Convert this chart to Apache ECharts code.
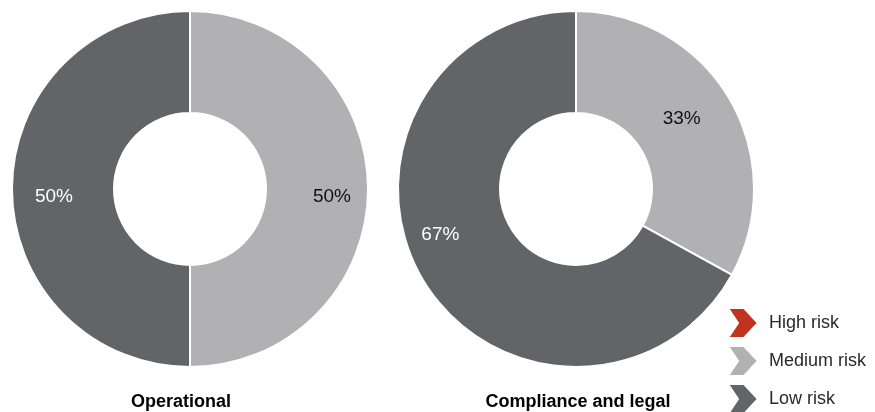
<!DOCTYPE html>
<html>
<head>
<meta charset="utf-8">
<script src="https://cdn.jsdelivr.net/npm/echarts@6/dist/echarts.min.js"></script>
<style>html,body{margin:0;padding:0;background:#fff;}#c{width:875px;height:412px;}</style>
</head>
<body>
<div id="c"></div>
<script>
var categories = ['High risk', 'Medium risk', 'Low risk'];
var chartTitles = ['Operational', 'Compliance and legal'];
var operationalValues = [0, 50, 50];
var complianceValues = [0, 33, 67];

var colors = ['#c1321f', '#b1b1b3', '#636467'];
var labelColors = ['#000', '#111', '#fff'];
var centers = [[190, 189], [576, 189]];
// small manual label nudges (px), per series / data item, to match reference label placement
var labelNudges = [[[0, 0], [3, 8], [3, 8]], [[0, 0], [-14, 1], [-16, -25]]];
var chevron = 'path://M0,0 L16,0 L30,15 L16,30 L0,30 L10,15 Z';
var FONT = 'Liberation Sans, Arial, sans-serif';

function makeData(vals) {
  return categories.map(function (c, i) {
    return {
      name: c,
      value: vals[i],
      itemStyle: { color: colors[i] },
      label: { show: vals[i] > 0, color: labelColors[i] }
    };
  });
}

function makeSeries(vals, idx) {
  return {
    type: 'pie',
    center: centers[idx],
    radius: [76, 178],
    startAngle: 90,
    clockwise: true,
    avoidLabelOverlap: false,
    silent: true,
    emphasis: { disabled: true },
    itemStyle: { borderColor: '#fff', borderWidth: 2 },
    label: {
      position: 'inside',
      formatter: '{c}%',
      fontFamily: FONT,
      fontSize: 19
    },
    labelLine: { show: false },
    labelLayout: function (p) {
      var c = centers[idx];
      var lr = p.labelRect;
      var cx = lr.x + lr.width / 2, cy = lr.y + lr.height / 2;
      var vx = cx - c[0], vy = cy - c[1];
      var d = Math.sqrt(vx * vx + vy * vy) || 1;
      var R = 139;
      var n = labelNudges[idx][p.dataIndex];
      return { dx: vx / d * R - vx + n[0], dy: vy / d * R - vy + n[1] };
    },
    data: makeData(vals)
  };
}

var chart = echarts.init(document.getElementById('c'));
chart.setOption({
  animation: false,
  title: chartTitles.map(function (t, i) {
    return {
      text: t,
      left: centers[i][0] + (i === 1 ? 2 : -9),
      top: 393,
      padding: 0,
      textAlign: 'center',
      textStyle: { fontFamily: FONT, fontSize: 18, lineHeight: 18, fontWeight: 'bold', color: '#000' }
    };
  }),
  legend: {
    orient: 'vertical',
    left: 727,
    top: 307,
    height: 130,
    padding: 0,
    itemWidth: 30,
    itemHeight: 30,
    itemGap: 6,
    selectedMode: false,
    icon: chevron,
    data: categories,
    textStyle: { fontFamily: FONT, fontSize: 18, color: '#2a2a2a', padding: [0, 0, 0, 6] }
  },
  series: [makeSeries(operationalValues, 0), makeSeries(complianceValues, 1)]
});
</script>
</body>
</html>
